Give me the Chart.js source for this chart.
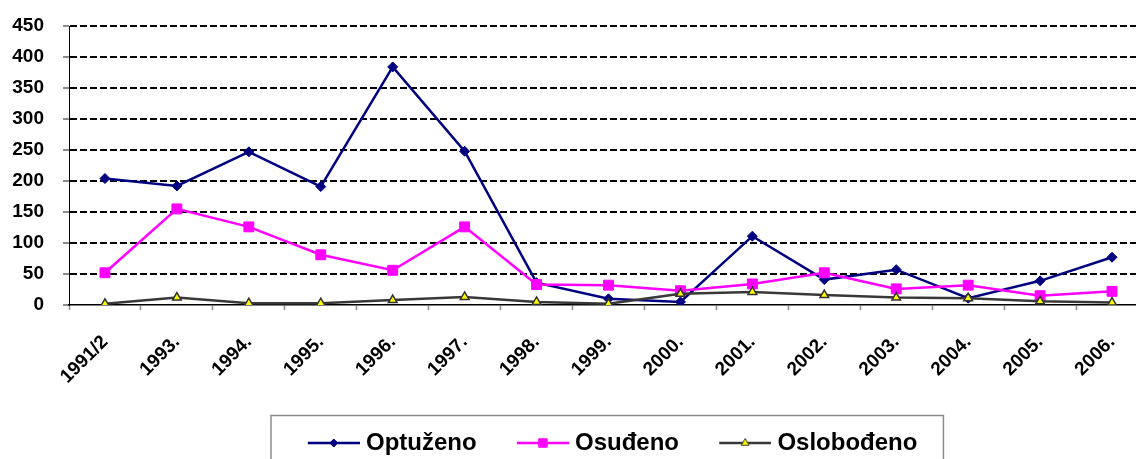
<!DOCTYPE html>
<html>
<head>
<meta charset="utf-8">
<script src="https://cdn.jsdelivr.net/npm/chart.js@4.4.1/dist/chart.umd.min.js"></script>
<style>
html,body{margin:0;padding:0;background:#fff;overflow:hidden;}
#wrap{position:relative;width:1136px;height:459px;overflow:hidden;background:#fff;}
#c{position:absolute;left:0;top:0;}
</style>
</head>
<body>
<div id="wrap"><canvas id="c" width="1152" height="470" style="width:1152px;height:470px"></canvas></div>
<script>
// ---- data ----
const categories = ['1991/2','1993.','1994.','1995.','1996.','1997.','1998.','1999.','2000.','2001.','2002.','2003.','2004.','2005.','2006.'];
const optuzeno    = [204, 192, 247, 191, 384, 248, 36, 10, 5, 111, 41, 57, 11, 39, 77];
const osudjeno    = [52, 155, 126, 81, 56, 126, 33, 32, 23, 34, 52, 26, 32, 15, 22];
const oslobodjeno = [2, 12, 3, 3, 8, 13, 5, 2, 18, 21, 16, 12, 11, 6, 4];
const seriesNames = ['Optuženo', 'Osuđeno', 'Oslobođeno'];
const yMin = 0, yMax = 450, yStep = 50;

const FONT = '"Liberation Sans", Arial, sans-serif';
const NAVY = '#000080', PINK = '#FF00FF', GRAY = '#383838', YEL = '#FFFF00';

function legendImg(color, style, radius, fill, stroke, bw) {
  const c = document.createElement('canvas');
  c.width = 66; c.height = 14;
  const g = c.getContext('2d');
  g.strokeStyle = color; g.lineWidth = 2.5;
  g.beginPath(); g.moveTo(14, 7); g.lineTo(66, 7); g.stroke();
  g.fillStyle = fill; g.strokeStyle = stroke; g.lineWidth = bw;
  Chart.helpers.drawPoint(g, {pointStyle: style, radius: radius, borderWidth: bw, rotation: 0}, 40, 7);
  return c;
}
const legendImgs = [
  legendImg(NAVY, 'rectRot', 4, NAVY, NAVY, 1),
  legendImg(PINK, 'rect', 6, PINK, PINK, 1),
  legendImg(GRAY, 'triangle', 4.5, YEL, GRAY, 1)
];

const legendFrame = {
  id: 'legendFrame',
  afterDraw(chart) {
    const hb = chart.legend && chart.legend.legendHitBoxes;
    if (!hb || !hb.length) return;
    const first = hb[0], last = hb[hb.length - 1];
    const left = first.left - 28.6, right = last.left + last.width + 26;
    const cy = first.top + first.height / 2;
    const top = cy - 27.5;
    const ctx = chart.ctx;
    ctx.save();
    ctx.strokeStyle = '#8c8c8c'; ctx.lineWidth = 1.5;
    ctx.beginPath();
    ctx.moveTo(left, chart.height + 5); ctx.lineTo(left, top); ctx.lineTo(right, top); ctx.lineTo(right, chart.height + 5);
    ctx.stroke();
    ctx.restore();
  }
};

new Chart(document.getElementById('c'), {
  type: 'line',
  data: {
    labels: categories,
    datasets: [
      { label: seriesNames[0], data: optuzeno, borderColor: NAVY, backgroundColor: NAVY, borderWidth: 2.5,
        pointStyle: 'rectRot', pointRadius: 5, pointBorderWidth: 1, pointBackgroundColor: NAVY, pointBorderColor: NAVY, order: 3, tension: 0 },
      { label: seriesNames[1], data: osudjeno, borderColor: PINK, backgroundColor: PINK, borderWidth: 2.5,
        pointStyle: 'rect', pointRadius: 7, pointBorderWidth: 1, pointBackgroundColor: PINK, pointBorderColor: PINK, order: 2, tension: 0 },
      { label: seriesNames[2], data: oslobodjeno, borderColor: GRAY, backgroundColor: YEL, borderWidth: 2.5,
        pointStyle: 'triangle', pointRadius: 5, pointBorderWidth: 1.5, pointBackgroundColor: YEL, pointBorderColor: '#333', order: 1, tension: 0 }
    ]
  },
  options: {
    responsive: false,
    animation: false,
    devicePixelRatio: 1,
    layout: { autoPadding: false, padding: { left: 0, right: 4, top: 26, bottom: 5 } },
    plugins: {
      tooltip: { enabled: false },
      legend: {
        position: 'bottom', fullSize: false, align: 'center',
        labels: {
          usePointStyle: true, pointStyleWidth: 54.4, padding: 32, color: '#000',
          font: { family: FONT, size: 24, weight: 'bold' },
          sort: (a, b) => a.datasetIndex - b.datasetIndex,
          generateLabels(chart) {
            const items = Chart.defaults.plugins.legend.labels.generateLabels(chart);
            items.forEach(it => { it.pointStyle = legendImgs[it.datasetIndex]; });
            return items;
          }
        }
      }
    },
    scales: {
      x: {
        offset: true,
        grid: { offset: true, drawOnChartArea: false, drawTicks: true, tickLength: 5, tickColor: '#8c8c8c', tickWidth: 1.5 },
        border: { display: true, color: '#000', width: 1.5 },
        ticks: { autoSkip: false, maxRotation: 45, minRotation: 45, padding: 21, color: '#000',
                 font: { family: FONT, size: 19, weight: 'bold' } },
        afterFit(s) { s.height = 94; s.paddingLeft = 0; s.paddingRight = 0; }
      },
      y: {
        min: yMin, max: yMax,
        ticks: { stepSize: yStep, padding: 19, color: '#000', font: { family: FONT, size: 19, weight: 'bold' } },
        grid: { color: (c) => (c.tick && c.tick.value === 0) ? 'rgba(0,0,0,0)' : '#000', lineWidth: 2,
                tickLength: 6, tickColor: '#8c8c8c', tickWidth: 2, drawTicks: true },
        border: { display: true, color: '#000', width: 1, dash: [7, 3] },
        afterFit(s) { s.width = 69; s.paddingTop = 0; s.paddingBottom = 0; }
      }
    }
  },
  plugins: [legendFrame]
});
</script>
</body>
</html>
